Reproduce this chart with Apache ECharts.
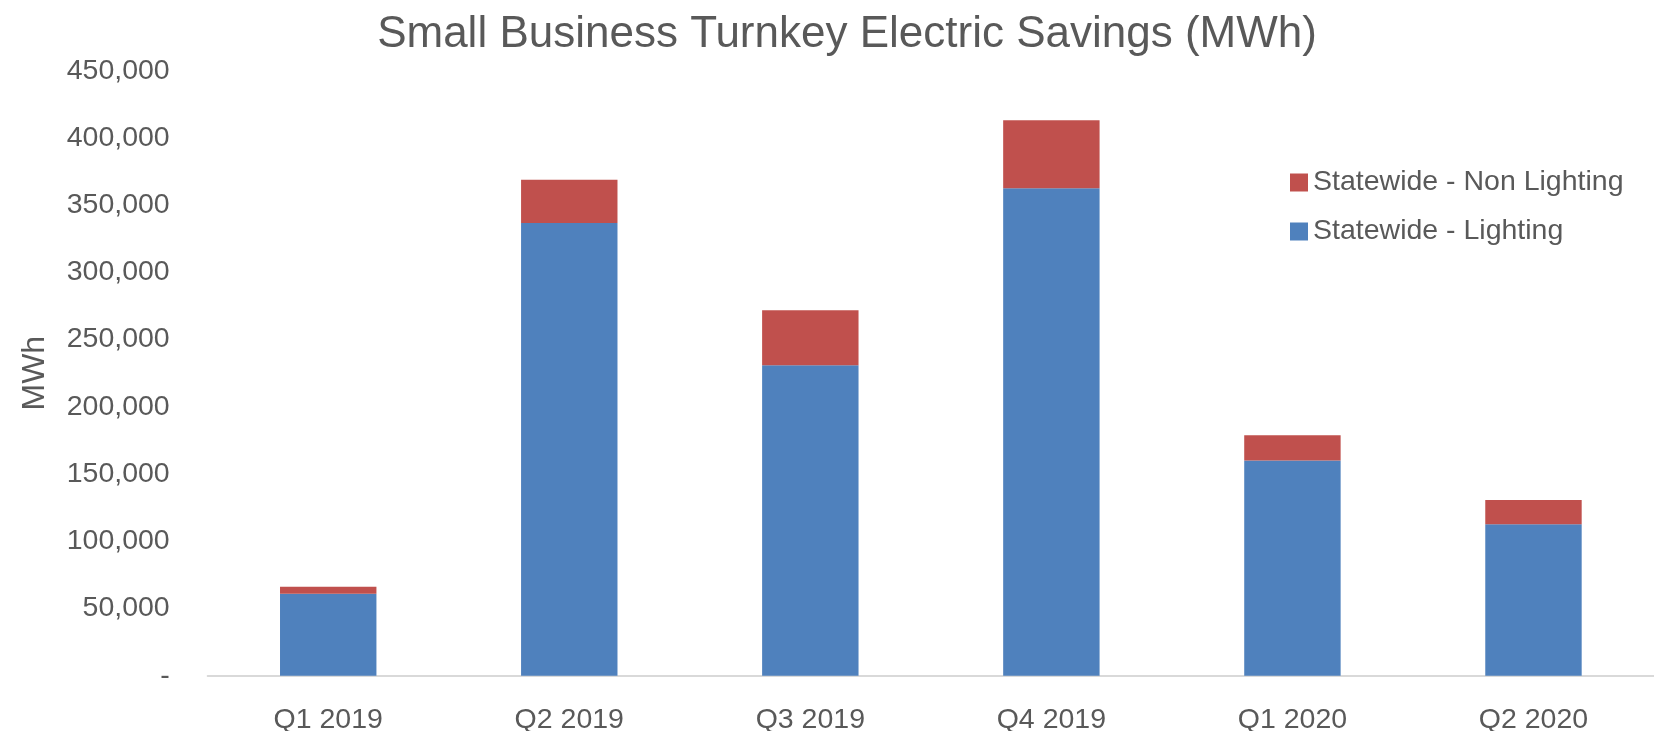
<!DOCTYPE html>
<html>
<head>
<meta charset="utf-8">
<script src="https://cdn.jsdelivr.net/npm/echarts@6/dist/echarts.min.js"></script>
<style>
  html, body { margin: 0; padding: 0; background: #fff; }
  #szt { width: 1654px; height: 731px; }
</style>
</head>
<body>
<div id="szt"></div>
<script>
// data
const quarters = ["Q1 2019", "Q2 2019", "Q3 2019", "Q4 2019", "Q1 2020", "Q2 2020"];
const lighting = [61000, 336800, 230900, 362600, 160000, 112600];
const nonLighting = [5200, 32000, 41000, 50600, 18900, 18100];
const yTicks = { min: 0, max: 450000, step: 50000 };

const font = "'Liberation Sans', Arial, sans-serif";
const textColor = "#595959";

let chartDom = document.getElementById("szt");
let myChart = echarts.init(chartDom);

myChart.setOption({
  animation: false,
  textStyle: { fontFamily: font, color: textColor },
  title: {
    text: "Small Business Turnkey Electric Savings (MWh)",
    left: 842,
    textAlign: "center",
    top: 8,
    textStyle: { fontFamily: font, fontSize: 44, fontWeight: "normal", color: textColor },
  },
  legend: {
    orient: "vertical",
    left: 1285,
    top: 163,
    itemWidth: 18,
    itemHeight: 18,
    itemGap: 20,
    icon: "rect",
    data: ["Statewide - Non Lighting", "Statewide - Lighting"],
    textStyle: { fontFamily: font, fontSize: 28.5, color: textColor },
  },
  grid: {
    left: 207.7,
    right: 0,
    top: 70.7,
    bottom: 55.3,
    outerBoundsMode: "none",
  },
  xAxis: {
    type: "category",
    data: quarters,
    axisLine: { lineStyle: { color: "#D9D9D9", width: 2 } },
    axisTick: { show: false },
    axisLabel: { fontFamily: font, fontSize: 28.5, color: textColor, margin: 30 },
  },
  yAxis: {
    type: "value",
    min: yTicks.min,
    max: yTicks.max,
    interval: yTicks.step,
    name: "MWh",
    nameLocation: "middle",
    nameGap: 157,
    nameTextStyle: { fontFamily: font, fontSize: 32, color: textColor },
    splitLine: { show: false },
    axisLine: { show: false },
    axisTick: { show: false },
    axisLabel: {
      fontFamily: font,
      fontSize: 28.5,
      color: textColor,
      margin: 38,
      formatter: function (v) {
        // accounting style: zero shows as a dash
        return v === 0 ? "-" : v.toLocaleString("en-US");
      },
    },
  },
  series: [
    {
      name: "Statewide - Lighting",
      type: "bar",
      stack: "total",
      barWidth: "40%",
      itemStyle: { color: "#4F81BD" },
      data: lighting,
    },
    {
      name: "Statewide - Non Lighting",
      type: "bar",
      stack: "total",
      barWidth: "40%",
      itemStyle: { color: "#C0504D" },
      data: nonLighting,
    },
  ],
});
</script>
</body>
</html>
